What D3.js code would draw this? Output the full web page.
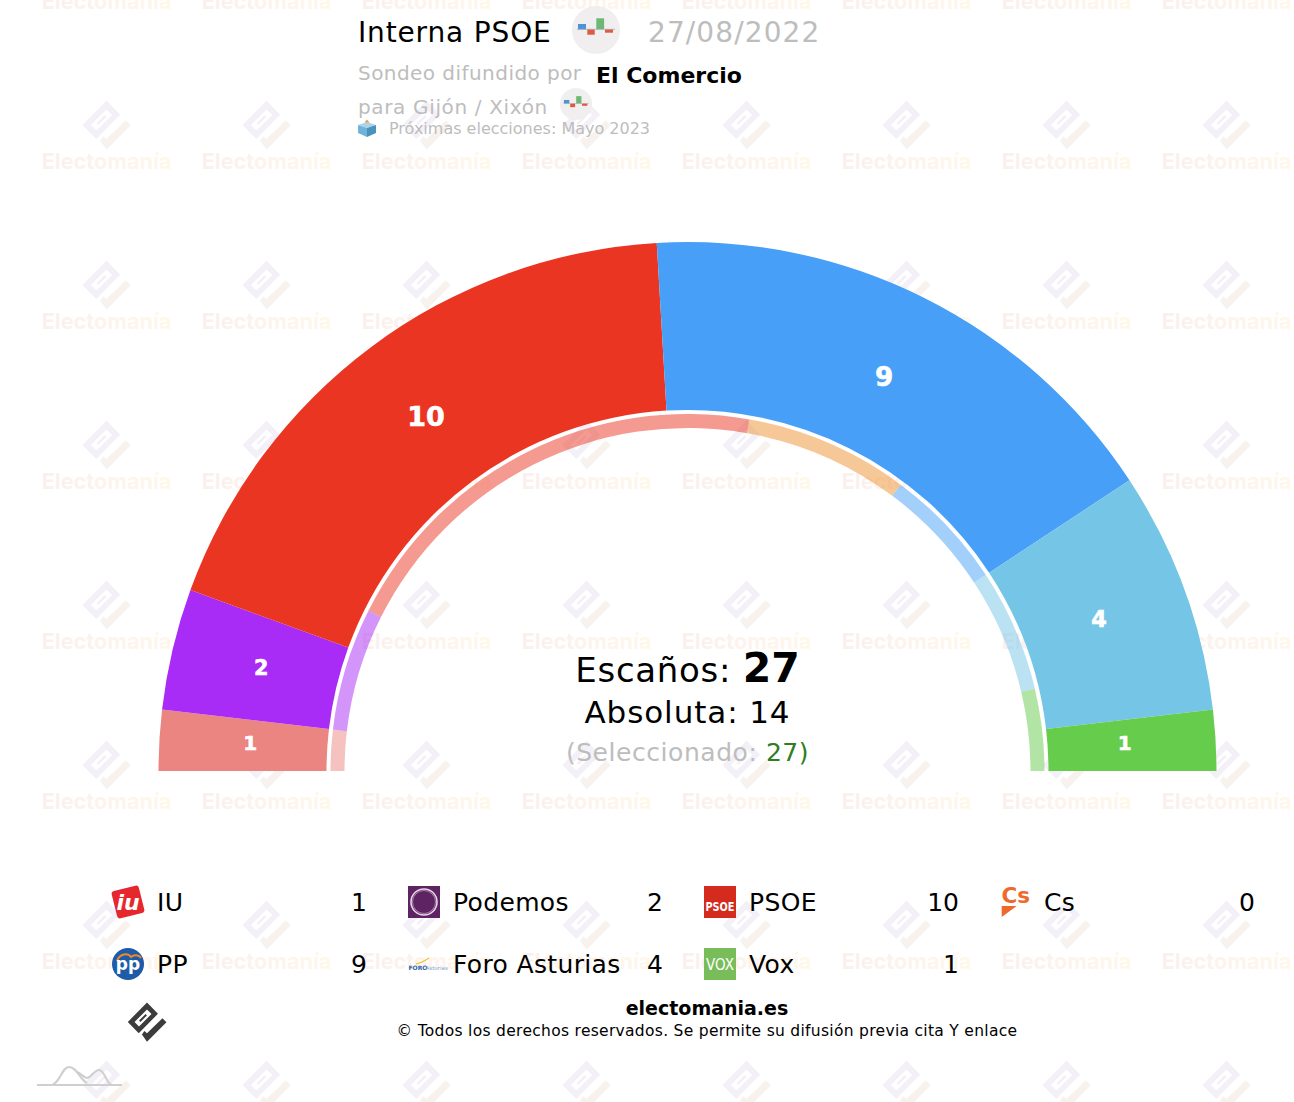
<!DOCTYPE html>
<html>
<head>
<meta charset="utf-8">
<script src="https://cdn.jsdelivr.net/npm/d3@7"></script>
<style>
  body { margin: 0; background: #fff; }
  text { font-family: "DejaVu Sans", sans-serif; }
</style>
</head>
<body>
<script>
var width = 1294;
var height = 1102;

// data
var parties = ['IU', 'Podemos', 'PSOE', 'Cs', 'PP', 'Foro Asturias', 'Vox'];
var seats = [1, 2, 10, 0, 9, 4, 1];
var innerSeats = [1, 3, 11, 4, 3, 3, 2];
var colors = ['#EB8582', '#A92BF6', '#EB3523', '#EE9132', '#479FF8', '#75C5E7', '#66CC4C'];
var legendOrder = ['IU', 'Podemos', 'PSOE', 'Cs', 'PP', 'Foro Asturias', 'Vox'];
var totalSeats = 27;
var majority = 14;
var selected = 27;

var cx = 687.5;
var cy = 771;

var svg = d3.select('body').append('svg')
  .attr('width', width)
  .attr('height', height)
  .style('display', 'block');

var defs = svg.append('defs');
var grad = defs.append('linearGradient').attr('id', 'wmGrad');
grad.append('stop').attr('offset', '0%').attr('stop-color', '#FBEFEE');
grad.append('stop').attr('offset', '100%').attr('stop-color', '#FFF7EA');

// logo shapes, centred on 0,0
var markBody = 'M-24,0 L0,-24.5 L13.7,-10.3 L-10.3,14 Z ' +
  'M5.6,-10 L0,-15.6 L-15.6,0 L-10,5.6 Z ' +
  'M-0.05,-8.25 L-1.75,-9.95 L-9.95,-1.75 L-8.25,-0.05 Z';
var markCheck = 'M-6.3,15.7 L0,24.7 L24.3,0.3 L19.3,-4.7 L0,14 L-3.3,11.3 Z';

function drawMark(g, bodyColor, checkColor) {
  g.append('path').attr('d', markBody).attr('fill', bodyColor).attr('fill-rule', 'evenodd');
  g.append('path').attr('d', markCheck).attr('fill', checkColor);
}

// watermark tiles
var wmCols = d3.range(0, 9);
var wmRows = d3.range(-1, 7);
var wm = svg.append('g').attr('class', 'watermark');
wmRows.forEach(function (r) {
  wmCols.forEach(function (c) {
    var g = wm.append('g').attr('transform', 'translate(' + (106.5 + c * 160) + ',' + (125 + r * 160) + ')');
    drawMark(g, '#F3F0F7', '#F8F2EE');
    g.append('text')
      .attr('text-anchor', 'middle')
      .attr('y', 43.5)
      .attr('font-size', 21.6)
      .attr('font-weight', 700)
      .style('font-family', 'Inter, sans-serif')
      .attr('fill', 'url(#wmGrad)')
      .text('Electomanía');
  });
});

// arcs
var pie = d3.pie().sort(null).startAngle(-Math.PI / 2).endAngle(Math.PI / 2);
var outerArc = d3.arc().innerRadius(361).outerRadius(529);
var ringArc = d3.arc().innerRadius(343).outerRadius(357);
var labelArc = d3.arc().innerRadius(438).outerRadius(438);
var labelSize = d3.scaleLinear().domain([1, 10]).range([20, 27]);

var chart = svg.append('g').attr('transform', 'translate(' + cx + ',' + cy + ')');

chart.selectAll('path.seat')
  .data(pie(seats))
  .enter()
  .append('path')
  .attr('class', 'seat')
  .attr('d', outerArc)
  .attr('fill', function (d, i) { return colors[i]; });

chart.selectAll('path.ring')
  .data(pie(innerSeats))
  .enter()
  .append('path')
  .attr('class', 'ring')
  .attr('d', ringArc)
  .attr('fill', function (d, i) { return colors[i]; })
  .attr('fill-opacity', 0.5);

chart.selectAll('text.seatLabel')
  .data(pie(seats).filter(function (d) { return d.value > 0; }))
  .enter()
  .append('text')
  .attr('class', 'seatLabel')
  .attr('transform', function (d) { return 'translate(' + labelArc.centroid(d) + ')'; })
  .attr('text-anchor', 'middle')
  .attr('dy', '0.24em')
  .attr('font-weight', 700)
  .attr('stroke', '#fff')
  .attr('stroke-width', 0.6)
  .attr('font-size', function (d) { return labelSize(d.value); })
  .attr('fill', '#fff')
  .text(function (d) { return d.value; });

// header
function pollLogo(x, y, s) {
  var g = svg.append('g').attr('transform', 'translate(' + x + ',' + y + ') scale(' + s + ')');
  g.append('circle').attr('r', 24).attr('fill', '#EFEDED').attr('fill-opacity', 0.95);
  g.append('rect').attr('x', -18).attr('y', -6).attr('width', 8).attr('height', 5.4).attr('fill', '#4C93D8');
  g.append('rect').attr('x', -8.7).attr('y', -0.7).attr('width', 7.4).attr('height', 5.4).attr('fill', '#DD5A45');
  g.append('rect').attr('x', 0.3).attr('y', -11.7).attr('width', 7.8).attr('height', 11).attr('fill', '#6DB874');
  g.append('rect').attr('x', 9).attr('y', -0.7).attr('width', 8).attr('height', 3.4).attr('fill', '#DD5A45');
  g.append('line').attr('x1', -19).attr('x2', 19).attr('y1', -0.7).attr('y2', -0.7).attr('stroke', '#aaa').attr('stroke-width', 0.8);
}

function label(x, y, size, fill, str, weight, anchor, spacing) {
  return svg.append('text')
    .attr('x', x).attr('y', y)
    .attr('font-size', size)
    .attr('fill', fill)
    .attr('font-weight', weight || 400)
    .attr('text-anchor', anchor || 'start')
    .attr('letter-spacing', spacing || 0)
    .text(str);
}

label(358, 42, 28, '#000', 'Interna PSOE', 400, 'start', 0.85);
pollLogo(596, 30, 1);
label(648, 42, 28, '#BDBDBD', '27/08/2022', 400, 'start', 1.1);
label(358, 80, 20, '#BDBDBD', 'Sondeo difundido por', 400, 'start', 0.45);
label(596, 83, 22, '#000', 'El Comercio', 700);
label(358, 114, 20, '#BDBDBD', 'para Gijón / Xixón', 400, 'start', 0.65);
pollLogo(576, 104, 0.67);

// ballot box
var box = svg.append('g').attr('transform', 'translate(367,129)');
box.append('path').attr('d', 'M-2.5,-5 L-2,-7 L0,-9.5 L2,-7 L2.5,-5 L2.5,-3 L-2.5,-3 Z').attr('fill', '#EE9A3A');
box.append('path').attr('d', 'M-9,-4 L0,-7 L9,-4 L0,-1 Z').attr('fill', '#A9D4EA');
box.append('path').attr('d', 'M-9,-4 L0,-1 L0,8 L-9,4 Z').attr('fill', '#6FB4D8');
box.append('path').attr('d', 'M9,-4 L0,-1 L0,8 L9,4 Z').attr('fill', '#4A93BC');
label(389, 134, 16, '#BDBDBD', 'Próximas elecciones: Mayo 2023');

// centre text
var t1 = label(cx, 682, 34, '#000', 'Escaños: ', 400, 'middle', 0.7);
t1.append('tspan').attr('font-weight', 700).attr('font-size', 41).attr('letter-spacing', 0).text(totalSeats);
label(cx, 723, 31, '#000', 'Absoluta: ' + majority, 400, 'middle', 0.9);
var t3 = label(cx, 761, 25, '#BDBDBD', '(Seleccionado: ', 400, 'middle', 0.55);
t3.append('tspan').attr('fill', '#2E7D1E').text(selected + ')');

// legend
var legX = d3.scalePoint().domain(d3.range(4)).range([112, 1000]);
var legY = d3.scalePoint().domain(d3.range(2)).range([902, 964]);

function drawIcon(g, name) {
  if (name === 'IU') {
    g.append('rect').attr('x', -14).attr('y', -14).attr('width', 28).attr('height', 28).attr('rx', 3)
      .attr('transform', 'rotate(-14)').attr('fill', '#E5282E');
    g.append('text').attr('text-anchor', 'middle').attr('y', 8).attr('font-size', 22).attr('font-weight', 700)
      .attr('font-style', 'italic').attr('fill', '#fff').text('iu');
  } else if (name === 'Podemos') {
    g.append('rect').attr('x', -16).attr('y', -16).attr('width', 32).attr('height', 32).attr('fill', '#5E2362');
    g.append('circle').attr('r', 13).attr('fill', 'none').attr('stroke', '#E4D6E6').attr('stroke-width', 1.6);
    g.append('circle').attr('r', 11.5).attr('fill', 'none').attr('stroke', '#B998BC').attr('stroke-width', 0.8);
  } else if (name === 'PSOE') {
    g.append('rect').attr('x', -16).attr('y', -16).attr('width', 32).attr('height', 32).attr('fill', '#D52B1E');
    g.append('text').attr('text-anchor', 'middle').attr('y', 8.5).attr('font-size', 12).attr('font-weight', 700)
      .attr('textLength', 29).attr('lengthAdjust', 'spacingAndGlyphs').attr('fill', '#fff').text('PSOE');
  } else if (name === 'Cs') {
    g.append('text').attr('x', -14.5).attr('y', 1).attr('font-size', 21.5).attr('font-weight', 700)
      .attr('fill', '#EE6A2C').text('Cs');
    g.append('path').attr('d', 'M-14.3,4 L0.7,4 L-14.3,15 Z').attr('fill', '#EE6A2C');
  } else if (name === 'PP') {
    g.append('circle').attr('r', 16).attr('fill', '#1F5BA8');
    g.append('path').attr('d', 'M-11,-3 C-8,-11 0,-11 3,-7 C6,-10 11,-9 13,-6').attr('fill', 'none')
      .attr('stroke', '#F08A24').attr('stroke-width', 2);
    g.append('text').attr('text-anchor', 'middle').attr('y', 6).attr('font-size', 17).attr('font-weight', 700)
      .attr('fill', '#fff').text('pp');
  } else if (name === 'Foro Asturias') {
    g.append('path').attr('d', 'M-8,0 C-3,-1 2,-4 5,-6').attr('fill', 'none').attr('stroke', '#F2C230').attr('stroke-width', 1.2);
    g.append('text').attr('x', -15.5).attr('y', 6).attr('font-size', 6).attr('font-weight', 700).attr('fill', '#2B62A8').text('FORO');
    g.append('text').attr('x', 1.5).attr('y', 6).attr('font-size', 5.5).attr('fill', '#7FA3CC').text('Asturias');
  } else if (name === 'Vox') {
    g.append('rect').attr('x', -16).attr('y', -16).attr('width', 32).attr('height', 32).attr('fill', '#79BD5A');
    g.append('text').attr('text-anchor', 'middle').attr('y', 6).attr('font-size', 16)
      .attr('textLength', 28).attr('lengthAdjust', 'spacingAndGlyphs').attr('fill', '#fff').text('VOX');
  }
}

legendOrder.forEach(function (name, i) {
  var col = i % 4;
  var row = Math.floor(i / 4);
  var x0 = legX(col);
  var y0 = legY(row);
  var icon = svg.append('g').attr('transform', 'translate(' + (x0 + 16) + ',' + y0 + ')');
  drawIcon(icon, name);
  label(x0 + (name === 'Cs' ? 44 : 45), y0 + 9, 25, '#000', name, 400, 'start', 0.35);
  label(x0 + 255, y0 + 9, 25, '#000', seats[parties.indexOf(name)], 400, 'end');
});

// footer
drawMark(svg.append('g').attr('transform', 'translate(147,1022) scale(0.8)'), '#3C3C3C', '#3C3C3C');
label(707, 1015, 19, '#000', 'electomania.es', 700, 'middle');
label(707, 1036, 15.5, '#000', '© Todos los derechos reservados. Se permite su difusión previa cita Y enlace', 400, 'middle', 0.3);

var mini = svg.append('g').attr('fill', 'none').attr('stroke', '#CFCFCF').attr('stroke-width', 2.2);
mini.append('path').attr('d', 'M37,1085 L122,1085');
mini.append('path').attr('d', 'M52,1085 C60,1083 62,1067 69,1067 C77,1067 80,1080 87,1083');
mini.append('path').attr('d', 'M77,1072 C81,1073 84,1078 87,1078 C91,1078 94,1070 99,1070 C105,1070 106,1084 112,1085');
</script>
</body>
</html>
